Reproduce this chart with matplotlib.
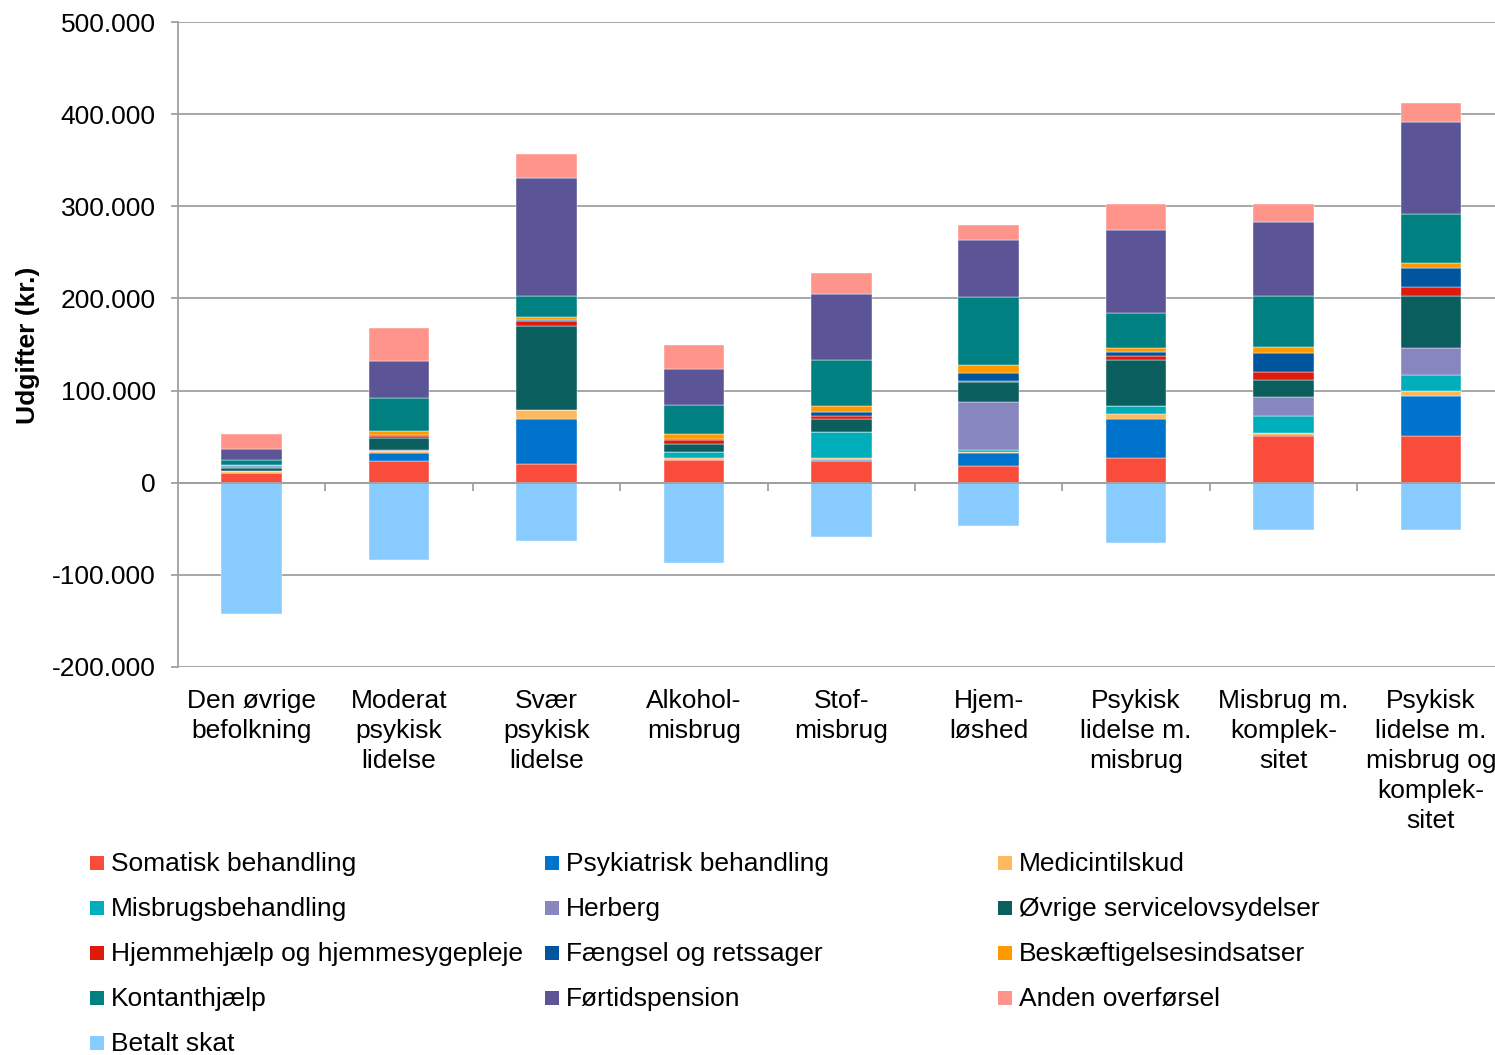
import matplotlib
matplotlib.use("Agg")
import matplotlib.pyplot as plt
from matplotlib.patches import Rectangle
from matplotlib.ticker import FuncFormatter, MultipleLocator
import numpy as np

plt.rcParams['font.family'] = ['Liberation Sans', 'DejaVu Sans']

categories = ["Den øvrige\nbefolkning", "Moderat\npsykisk\nlidelse", "Svær\npsykisk\nlidelse",
              "Alkohol-\nmisbrug", "Stof-\nmisbrug", "Hjem-\nløshed",
              "Psykisk\nlidelse m.\nmisbrug", "Misbrug m.\nkomplek-\nsitet",
              "Psykisk\nlidelse m.\nmisbrug og\nkomplek-\nsitet"]

# values in thousand kr., stacked from the bottom up
somatisk = [10.5, 24.0, 20.7, 24.3, 23.6, 18.0, 27.2, 50.4, 50.7]
psykiatrisk = [0.5, 8.0, 48.0, 0.5, 1.5, 13.8, 42.4, 1.8, 43.5]
medicin = [1.2, 2.5, 9.8, 1.5, 1.8, 1.8, 5.4, 2.2, 5.8]
misbrug = [0.5, 0.3, 0.3, 6.9, 28.3, 1.8, 8.3, 18.5, 17.0]
herberg = [0.3, 0.2, 0.3, 0.3, 0.3, 52.0, 0.3, 20.3, 29.0]
oevrige = [3.0, 13.4, 90.6, 8.7, 13.8, 21.7, 49.3, 18.1, 56.9]
hjemme = [1.2, 1.8, 6.2, 4.0, 2.9, 1.8, 4.7, 8.7, 9.0]
faengsel = [0.5, 1.5, 1.0, 1.5, 4.3, 8.0, 4.0, 21.0, 21.0]
beskaeft = [1.0, 4.7, 2.9, 4.7, 6.5, 9.0, 4.3, 6.5, 5.4]
kontant = [6.2, 36.0, 22.8, 31.5, 50.4, 73.6, 38.0, 55.0, 52.9]
foertid = [12.0, 40.0, 128.0, 40.0, 71.0, 61.6, 90.2, 80.0, 100.7]
anden = [16.3, 35.0, 26.5, 25.4, 22.8, 16.7, 28.6, 20.0, 20.3]
skat = [-143.0, -84.0, -63.0, -87.0, -58.7, -46.7, -65.0, -51.0, -51.0]

names = ["Somatisk behandling", "Psykiatrisk behandling", "Medicintilskud",
         "Misbrugsbehandling", "Herberg", "Øvrige servicelovsydelser",
         "Hjemmehjælp og hjemmesygepleje", "Fængsel og retssager", "Beskæftigelsesindsatser",
         "Kontanthjælp", "Førtidspension", "Anden overførsel", "Betalt skat"]
colors = ["#F94C3B", "#0074CC", "#FFB85C", "#00AEBB", "#8886BE", "#0B5E5E",
          "#DD1A0C", "#00559E", "#FF9900", "#008080", "#5B5597", "#FF948A", "#87CBFF"]

series = [somatisk, psykiatrisk, medicin, misbrug, herberg, oevrige, hjemme,
          faengsel, beskaeft, kontant, foertid, anden]

W, H = 1495, 1055
fs = 19
fig = plt.figure(figsize=(W / 100, H / 100), dpi=100)
ax = fig.add_axes([178 / W, 388 / H, 1326.6 / W, 645 / H])

x = np.arange(len(categories))
bw = 0.41
bottom = np.zeros(len(categories))
for vals, col in zip(series, colors[:-1]):
    v = np.array(vals) * 1000
    ax.bar(x, v, bw, bottom=bottom, color=col, edgecolor="white", linewidth=0.3, zorder=2)
    bottom += v
ax.bar(x, np.array(skat) * 1000, bw, color=colors[-1], edgecolor="white", linewidth=0.3, zorder=2)

gray = "#A0A0A0"
ax.set_xlim(-0.5, 8.5)
ax.set_ylim(-200000, 500000)
ax.yaxis.set_major_locator(MultipleLocator(100000))
ax.yaxis.set_major_formatter(FuncFormatter(lambda v, p: f"{int(v):,}".replace(",", ".")))
ax.grid(axis="y", color=gray, linewidth=1.3, zorder=0)
ax.set_axisbelow(True)

for s in ["top", "right"]:
    ax.spines[s].set_visible(False)
ax.spines["left"].set_color(gray)
ax.spines["left"].set_linewidth(1.3)
ax.spines["bottom"].set_position(("data", 0))
ax.spines["bottom"].set_color(gray)
ax.spines["bottom"].set_linewidth(1.3)
ax.spines["bottom"].set_zorder(3)

ax.set_xticks(x[:-1] + 0.5)
ax.set_xticklabels([])
ax.tick_params(axis="x", direction="out", length=6, width=1.3, color=gray)
ax.tick_params(axis="y", direction="out", length=5, width=1.3, color=gray,
               labelsize=fs, pad=11)

for xi, lab in zip(x, categories):
    ax.text(xi, -0.034, lab, transform=ax.get_xaxis_transform(), ha="center", va="top",
            fontsize=fs, linespacing=1.32)

fig.text(28 / W, 1 - 345 / H, "Udgifter (kr.)", rotation=90, ha="center", va="center",
         fontsize=19, fontweight="bold")

# legend, row-wise in 3 columns
col_x = [90, 545, 998]
for i, (name, col) in enumerate(zip(names, colors)):
    r, c = divmod(i, 3)
    yc = 863 + 45 * r
    fig.patches.append(Rectangle((col_x[c] / W, 1 - (yc + 7) / H), 14 / W, 14 / H,
                                 transform=fig.transFigure, facecolor=col, edgecolor="none"))
    fig.text((col_x[c] + 21) / W, 1 - (yc + 1) / H, name, ha="left", va="center", fontsize=fs)

fig.savefig("out.png", dpi=100)
